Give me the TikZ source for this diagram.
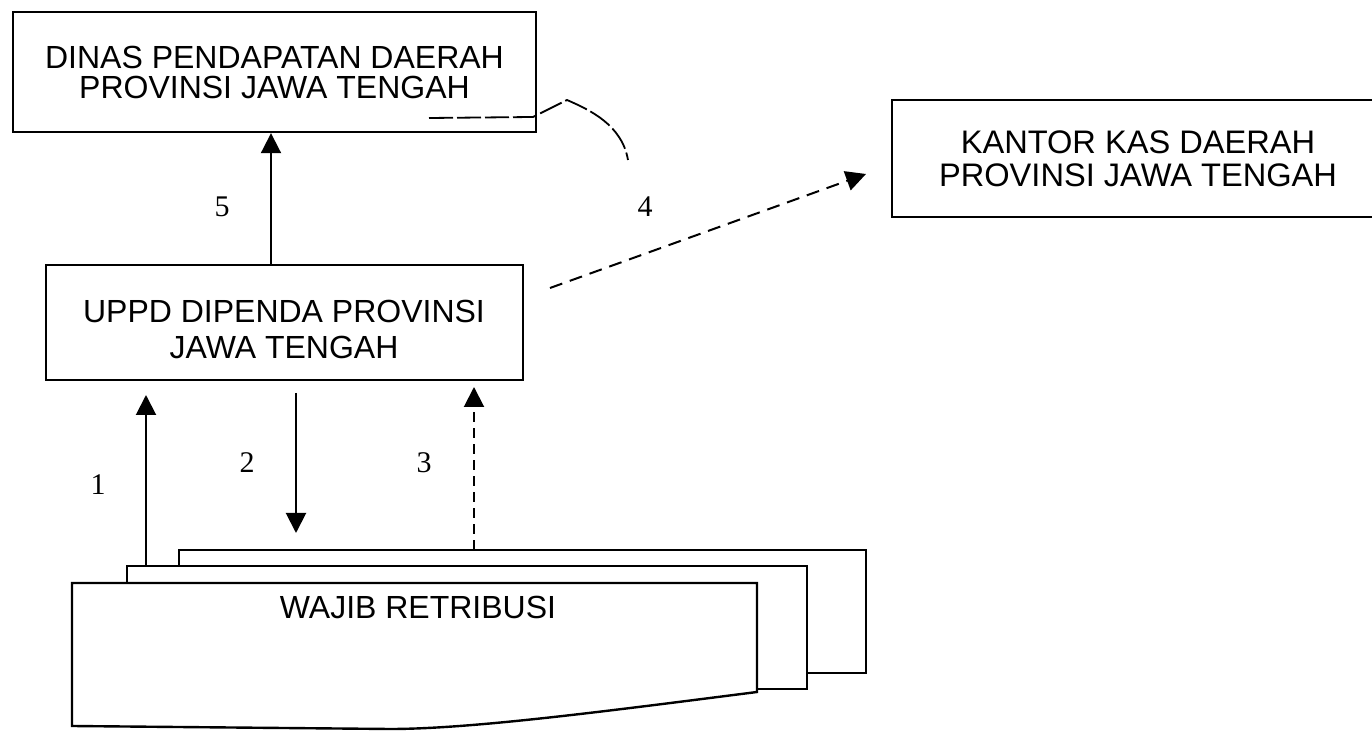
\documentclass[tikz,border=0pt]{standalone}
\usepackage{fontspec}
\setmainfont{Liberation Sans}
\newfontfamily\numfont{Liberation Serif}
\usetikzlibrary{arrows.meta}
\begin{document}
\begin{tikzpicture}[x=0.5pt,y=-0.5pt,
  box/.style={draw,line width=1.2pt,inner sep=0pt,align=center},
  arr/.style={line width=1pt,-{Triangle[length=10pt,width=10pt]}},
  num/.style={font=\numfont\fontsize{15}{15}\selectfont,inner sep=0pt},
  paper/.style={draw,line width=1.2pt,line join=miter}]
\useasboundingbox (0,0) rectangle (1372,732);
\node[box,minimum width=261.5pt,minimum height=60pt,
  font=\fontsize{16}{15}\selectfont] (dinas) at (274.5,72)
  {DINAS PENDAPATAN DAERAH\\PROVINSI JAWA TENGAH};
\node[box,minimum width=238.5pt,minimum height=57.5pt] (uppd) at (284.5,322.5) {};
\node[inner sep=0pt,align=center,font=\fontsize{16}{18}\selectfont] (uppdtext) at (284,329)
  {UPPD DIPENDA PROVINSI\\JAWA TENGAH};
\node[box,minimum width=246pt,minimum height=58.5pt,
  font=\fontsize{16.3}{16.5}\selectfont] (kantor) at (1138,158.5)
  {KANTOR KAS DAERAH\\PROVINSI JAWA TENGAH};
% papers (back to front)
\draw[paper] (179,566) -- (179,550) -- (866,550) -- (866,673) -- (807,673);
\draw[paper] (127,583) -- (127,566) -- (807,566) -- (807,689) -- (757,689);
\draw[paper,fill=white] (72,583) -- (757,583) -- (757,692)
  .. controls (600,712) and (470,729) .. (390,729) -- (72,726) -- cycle;
\node[inner sep=0pt,font=\fontsize{16}{16.5}\selectfont] (wajib) at (418,607) {WAJIB RETRIBUSI};
% coordinates
\coordinate (a1s) at (146,566);
\coordinate (a1e) at (146,395);
\coordinate (a2s) at (296,393);
\coordinate (a2e) at (296,533);
\coordinate (a3s) at (474,550);
\coordinate (a3e) at (474,387);
\coordinate (a4s) at (550,288);
\coordinate (a4e) at (866,174);
\coordinate (a5) at (271,0);
\draw[arr] (a1s) -- (a1e);
\draw[arr] (a2s) -- (a2e);
\draw[arr,dash pattern=on 5pt off 3pt] (a3s) -- (a3e);
\draw[arr,dash pattern=on 6.5pt off 4pt] (a4s) -- (a4e);
\draw[arr] (uppd.north -| a5) -- (dinas.south -| a5);
% faint curve
\coordinate (c0) at (429,118);
\coordinate (c1) at (533,117);
\coordinate (c2) at (567,100);
\coordinate (c3) at (628,160);
\draw[line width=0.9pt,dash pattern=on 12pt off 2pt] (c0) -- (c1) -- (c2)
  .. controls (590,110) and (622,125) .. (c3);
% labels
\node[num] (n5) at (222,207) {5};
\node[num] (n4) at (645,207) {4};
\node[num] (n1) at (98,485) {1};
\node[num] (n2) at (247,463) {2};
\node[num] (n3) at (424,463) {3};
\end{tikzpicture}
\end{document}
